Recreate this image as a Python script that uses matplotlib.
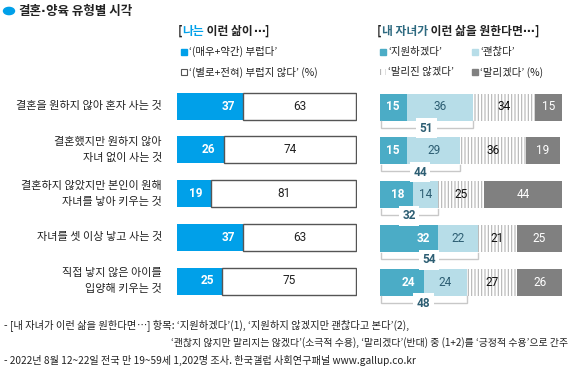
import matplotlib
matplotlib.use("Agg")
import matplotlib.pyplot as plt
from matplotlib.patches import Rectangle, Circle
import numpy as np

plt.rcParams['font.family'] = ['Noto Sans CJK KR', 'DejaVu Sans']
plt.rcParams['hatch.linewidth'] = 0.8

# ---- data ----
categories = ["결혼을 원하지 않아 혼자 사는 것",
              "결혼했지만 원하지 않아\n자녀 없이 사는 것",
              "결혼하지 않았지만 본인이 원해\n자녀를 낳아 키우는 것",
              "자녀를 셋 이상 낳고 사는 것",
              "직접 낳지 않은 아이를\n입양해 키우는 것"]
envy = [37, 26, 19, 37, 25]
not_envy = [63, 74, 81, 63, 75]
support = [15, 15, 18, 32, 24]
okay = [36, 29, 14, 22, 24]
not_stop = [34, 36, 25, 21, 27]
stop = [15, 19, 44, 25, 26]
positive = [51, 44, 32, 54, 48]

W, H = 571, 375
fig = plt.figure(figsize=(W / 100, H / 100), dpi=100)
renderer = fig.canvas.get_renderer()

def fx(px):
    return px / W

def fy(py):
    return 1 - py / H

def seq_text(x_px, y_px, pieces, **common):
    """Place text pieces one after another horizontally."""
    x = x_px
    for txt, kw in pieces:
        args = dict(common)
        args.update(kw)
        t = fig.text(fx(x), fy(y_px), txt, ha='left', va='center', **args)
        bb = t.get_window_extent(renderer=renderer)
        x += bb.width
    return x

BLUE = '#00a0e9'
TEAL = '#4bacc6'
LTEAL = '#b7dde8'
DGRAY = '#808080'
DARKTEAL = '#2d5e73'
NUMFONT = ['Roboto', 'Noto Sans CJK KR']
DOTFONT = ['DejaVu Sans']

row_pitch = 43.75
top = 106 - row_pitch / 2
ax_h = row_pitch * 5
bh = 27 / row_pitch
y = np.arange(len(categories))

# ---- left panel ----
axL = fig.add_axes([fx(177), fy(top + ax_h), fx(180), ax_h / H])
axL.barh(y, envy, height=bh, color=BLUE, linewidth=0)
axL.barh(y, not_envy, left=envy, height=bh, color='white', edgecolor='#555555', linewidth=1)
for i in range(len(y)):
    axL.text(envy[i] - 4.5, i, str(envy[i]), ha='right', va='center', color='white',
             fontsize=8.5, fontweight='bold', family=NUMFONT)
    axL.text(envy[i] + not_envy[i] / 2, i, str(not_envy[i]), ha='center', va='center',
             color='#222222', fontsize=8.5, family=NUMFONT)
axL.set_xlim(0, 100.5)
axL.set_ylim(len(y) - 0.5, -0.5)
axL.axis('off')

# category labels
for i, c in enumerate(categories):
    axL.text(-8.5, i, c, ha='right', va='center', fontsize=8, color='#222222',
             linespacing=1.75, transform=axL.transData, clip_on=False)

# ---- right panel ----
axR = fig.add_axes([fx(380), fy(top + 1 + ax_h), fx(182), ax_h / H])
s = np.array(support)
o = np.array(okay)
n = np.array(not_stop)
d = np.array(stop)
axR.barh(y, s, height=bh, color=TEAL, linewidth=0)
axR.barh(y, o, left=s, height=bh, color=LTEAL, linewidth=0)
axR.barh(y, n, left=s + o, height=bh, color='white', edgecolor='#b4b4b4', hatch='|||||', linewidth=0)
axR.barh(y, d, left=s + o + n, height=bh, color=DGRAY, linewidth=0)
for i in range(len(y)):
    axR.text(s[i] - 4.5, i, str(s[i]), ha='right', va='center', color='white',
             fontsize=8.5, fontweight='bold', family=NUMFONT)
    axR.text(s[i] + o[i] / 2, i, str(o[i]), ha='center', va='center', color=DARKTEAL,
             fontsize=8.5, family=NUMFONT)
    axR.text(s[i] + o[i] + n[i] / 2, i, str(n[i]), ha='center', va='center', color='#111111',
             fontsize=8.5, family=NUMFONT)
    axR.text(s[i] + o[i] + n[i] + d[i] / 2, i, str(d[i]), ha='center', va='center', color='white',
             fontsize=8.5, family=NUMFONT)
    # bracket
    yb0 = i + bh / 2 + 0.02
    yb1 = i + bh / 2 + 7 / row_pitch
    cum = positive[i]
    axR.plot([0.8, 0.8, cum, cum], [yb0, yb1, yb1, yb0], color='#c8c8c8', lw=1,
             solid_joinstyle='miter', clip_on=False)
    axR.text(cum / 2, yb1 + 0.02, str(cum), ha='center', va='center', color=DARKTEAL,
             fontsize=8.5, fontweight='bold', family=NUMFONT, clip_on=False,
             bbox=dict(boxstyle='square,pad=0.3', fc='white', ec='none'))
axR.set_xlim(0, 100)
axR.set_ylim(len(y) - 0.5, -0.5)
axR.axis('off')

# ---- title ----
fig.patches.append(Circle((fx(9), fy(11)), 5.5 / W, color=BLUE, transform=fig.transFigure,
                          figure=fig))
seq_text(18, 12, [("결혼", {}), ("·", {'family': DOTFONT}), ("양육 유형별 시각", {})],
         fontsize=9, fontweight='bold', color='#222222')

# ---- left legend ----
seq_text(178, 31, [("[", {}), ("나는", {'color': BLUE}), (" 이런 삶이", {}),
                   ("⋯", {'family': DOTFONT}), ("]", {})],
         fontsize=8.5, fontweight='bold', color='#222222')
fig.patches.append(Rectangle((fx(181), fy(55)), 6 / W, 6 / H, color=BLUE, transform=fig.transFigure, figure=fig))
fig.text(fx(189), fy(51.5), "‘(매우+약간) 부럽다’", ha='left', va='center', fontsize=7.5, color='#222222')
fig.patches.append(Rectangle((fx(181), fy(75)), 6 / W, 6 / H, facecolor='white', edgecolor='#555555', lw=0.8,
                             transform=fig.transFigure, figure=fig))
fig.text(fx(189), fy(72), "‘(별로+전혀) 부럽지 않다’ (%)", ha='left', va='center', fontsize=7.5, color='#222222')

# ---- right legend ----
seq_text(377, 31, [("[", {}), ("내 자녀가", {'color': '#2e6a80'}), (" 이런 삶을 원한다면", {}),
                   ("⋯", {'family': DOTFONT}), ("]", {})],
         fontsize=8.5, fontweight='bold', color='#222222')
fig.patches.append(Rectangle((fx(380), fy(55)), 6 / W, 6 / H, color=TEAL, transform=fig.transFigure, figure=fig))
fig.text(fx(388), fy(51.5), "‘지원하겠다’", ha='left', va='center', fontsize=7.5, color='#222222')
fig.patches.append(Rectangle((fx(472), fy(55)), 6 / W, 6 / H, color=LTEAL, transform=fig.transFigure, figure=fig))
fig.text(fx(480), fy(51.5), "‘괜찮다’", ha='left', va='center', fontsize=7.5, color='#222222')
fig.patches.append(Rectangle((fx(380), fy(75)), 6 / W, 6 / H, facecolor='white', edgecolor='#b8b8b8', lw=0,
                             hatch='|||', transform=fig.transFigure, figure=fig))
fig.text(fx(388), fy(72), "‘말리진 않겠다’", ha='left', va='center', fontsize=7.5, color='#222222')
fig.patches.append(Rectangle((fx(472), fy(75)), 6 / W, 6 / H, color=DGRAY, transform=fig.transFigure, figure=fig))
fig.text(fx(480), fy(72), "‘말리겠다’ (%)", ha='left', va='center', fontsize=7.5, color='#222222')

# ---- footnotes ----
seq_text(4, 325, [("- [내 자녀가 이런 삶을 원한다면", {}), ("⋯", {'family': DOTFONT}),
                  ("] 항목: ‘지원하겠다’(1), ‘지원하지 않겠지만 괜찮다고 본다’(2),", {})],
         fontsize=7.4, color='#222222')
fig.text(fx(568), fy(343), "‘괜찮지 않지만 말리지는 않겠다’(소극적 수용), ‘말리겠다’(반대) 중 (1+2)를 ‘긍정적 수용’으로 간주",
         ha='right', va='center', fontsize=7.1, color='#222222')
fig.text(fx(4), fy(360), "- 2022년 8월 12~22일 전국 만 19~59세 1,202명 조사. 한국갤럽 사회연구패널 www.gallup.co.kr",
         ha='left', va='center', fontsize=7.3, color='#222222')

fig.savefig("out.png", dpi=100, facecolor='white')
